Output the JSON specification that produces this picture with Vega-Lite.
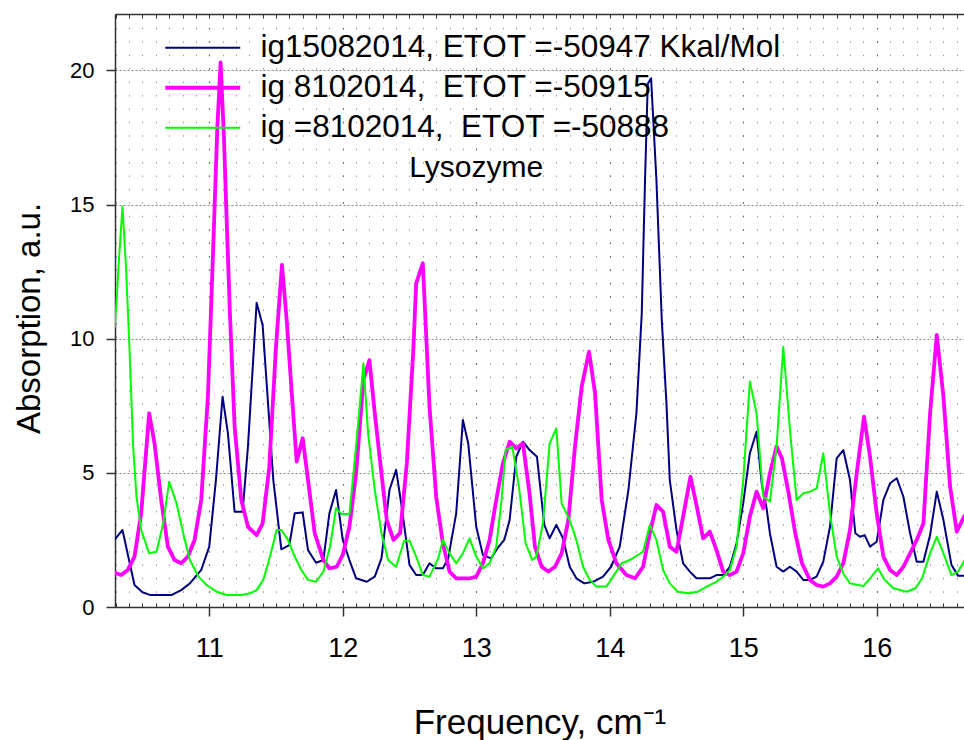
{
"$schema": "https://vega.github.io/schema/vega-lite/v6.json",
"width": 849, "height": 593,
"autosize": "none",
"padding": {"left": 115, "top": 14, "right": 0, "bottom": 133},
"background": "white",
"datasets": {
"spectra": [
{"s":"A","x":10.29,"y":2.5},{"s":"A","x":10.35,"y":2.87},{"s":"A","x":10.44,"y":0.82},{"s":"A","x":10.5,"y":0.55},{"s":"A","x":10.555,"y":0.45},{"s":"A","x":10.72,"y":0.45},{"s":"A","x":10.79,"y":0.63},{"s":"A","x":10.855,"y":0.88},{"s":"A","x":10.94,"y":1.38},{"s":"A","x":11.0,"y":2.25},{"s":"A","x":11.05,"y":4.73},{"s":"A","x":11.1,"y":7.84},{"s":"A","x":11.14,"y":6.47},{"s":"A","x":11.19,"y":3.55},{"s":"A","x":11.25,"y":3.55},{"s":"A","x":11.29,"y":5.98},{"s":"A","x":11.355,"y":11.34},{"s":"A","x":11.4,"y":10.5},{"s":"A","x":11.48,"y":4.73},{"s":"A","x":11.54,"y":2.15},{"s":"A","x":11.6,"y":2.31},{"s":"A","x":11.64,"y":3.49},{"s":"A","x":11.7,"y":3.52},{"s":"A","x":11.74,"y":2.12},{"s":"A","x":11.8,"y":1.65},{"s":"A","x":11.855,"y":1.75},{"s":"A","x":11.9,"y":3.49},{"s":"A","x":11.95,"y":4.36},{"s":"A","x":12.0,"y":2.5},{"s":"A","x":12.05,"y":1.75},{"s":"A","x":12.1,"y":1.07},{"s":"A","x":12.18,"y":0.94},{"s":"A","x":12.24,"y":1.13},{"s":"A","x":12.29,"y":1.81},{"s":"A","x":12.35,"y":4.36},{"s":"A","x":12.4,"y":5.11},{"s":"A","x":12.44,"y":3.8},{"s":"A","x":12.5,"y":1.57},{"s":"A","x":12.55,"y":1.19},{"s":"A","x":12.6,"y":1.19},{"s":"A","x":12.65,"y":1.63},{"s":"A","x":12.7,"y":1.44},{"s":"A","x":12.75,"y":1.44},{"s":"A","x":12.79,"y":1.81},{"s":"A","x":12.85,"y":3.49},{"s":"A","x":12.9,"y":6.97},{"s":"A","x":12.94,"y":6.1},{"s":"A","x":13.0,"y":2.99},{"s":"A","x":13.05,"y":1.94},{"s":"A","x":13.11,"y":1.81},{"s":"A","x":13.16,"y":2.19},{"s":"A","x":13.21,"y":2.5},{"s":"A","x":13.25,"y":3.24},{"s":"A","x":13.3,"y":5.6},{"s":"A","x":13.35,"y":6.16},{"s":"A","x":13.4,"y":5.85},{"s":"A","x":13.455,"y":5.6},{"s":"A","x":13.51,"y":3.06},{"s":"A","x":13.55,"y":2.56},{"s":"A","x":13.6,"y":3.06},{"s":"A","x":13.65,"y":2.56},{"s":"A","x":13.7,"y":1.5},{"s":"A","x":13.75,"y":1.07},{"s":"A","x":13.81,"y":0.88},{"s":"A","x":13.875,"y":0.94},{"s":"A","x":13.95,"y":1.13},{"s":"A","x":14.01,"y":1.5},{"s":"A","x":14.075,"y":2.25},{"s":"A","x":14.14,"y":4.36},{"s":"A","x":14.2,"y":7.22},{"s":"A","x":14.24,"y":10.94},{"s":"A","x":14.265,"y":16.0},{"s":"A","x":14.285,"y":19.5},{"s":"A","x":14.31,"y":19.7},{"s":"A","x":14.35,"y":15.9},{"s":"A","x":14.39,"y":10.7},{"s":"A","x":14.425,"y":7.59},{"s":"A","x":14.45,"y":4.73},{"s":"A","x":14.5,"y":2.87},{"s":"A","x":14.55,"y":1.63},{"s":"A","x":14.6,"y":1.32},{"s":"A","x":14.65,"y":1.07},{"s":"A","x":14.75,"y":1.07},{"s":"A","x":14.8,"y":1.19},{"s":"A","x":14.85,"y":1.19},{"s":"A","x":14.9,"y":1.5},{"s":"A","x":14.95,"y":2.37},{"s":"A","x":15.0,"y":3.86},{"s":"A","x":15.05,"y":5.73},{"s":"A","x":15.1,"y":6.53},{"s":"A","x":15.14,"y":4.55},{"s":"A","x":15.175,"y":3.68},{"s":"A","x":15.2,"y":2.75},{"s":"A","x":15.25,"y":1.5},{"s":"A","x":15.3,"y":1.32},{"s":"A","x":15.35,"y":1.5},{"s":"A","x":15.4,"y":1.32},{"s":"A","x":15.45,"y":1.01},{"s":"A","x":15.5,"y":1.01},{"s":"A","x":15.55,"y":1.13},{"s":"A","x":15.6,"y":1.69},{"s":"A","x":15.65,"y":2.99},{"s":"A","x":15.7,"y":5.54},{"s":"A","x":15.75,"y":5.85},{"s":"A","x":15.8,"y":4.73},{"s":"A","x":15.84,"y":2.75},{"s":"A","x":15.875,"y":2.62},{"s":"A","x":15.91,"y":2.68},{"s":"A","x":15.95,"y":2.25},{"s":"A","x":16.0,"y":2.43},{"s":"A","x":16.05,"y":3.99},{"s":"A","x":16.1,"y":4.61},{"s":"A","x":16.15,"y":4.8},{"s":"A","x":16.2,"y":4.11},{"s":"A","x":16.25,"y":2.75},{"s":"A","x":16.3,"y":1.69},{"s":"A","x":16.35,"y":1.69},{"s":"A","x":16.4,"y":2.68},{"s":"A","x":16.45,"y":4.3},{"s":"A","x":16.5,"y":3.24},{"s":"A","x":16.56,"y":1.57},{"s":"A","x":16.61,"y":1.16},{"s":"A","x":16.66,"y":1.16},
{"s":"B","x":10.29,"y":1.28},{"s":"B","x":10.34,"y":1.19},{"s":"B","x":10.39,"y":1.38},{"s":"B","x":10.44,"y":1.88},{"s":"B","x":10.49,"y":3.49},{"s":"B","x":10.55,"y":7.22},{"s":"B","x":10.59,"y":6.1},{"s":"B","x":10.64,"y":3.99},{"s":"B","x":10.69,"y":2.25},{"s":"B","x":10.74,"y":1.75},{"s":"B","x":10.79,"y":1.63},{"s":"B","x":10.84,"y":1.88},{"s":"B","x":10.89,"y":2.5},{"s":"B","x":10.94,"y":3.99},{"s":"B","x":10.99,"y":7.84},{"s":"B","x":11.03,"y":13.43},{"s":"B","x":11.06,"y":17.8},{"s":"B","x":11.085,"y":20.3},{"s":"B","x":11.11,"y":17.5},{"s":"B","x":11.13,"y":14.5},{"s":"B","x":11.155,"y":10.94},{"s":"B","x":11.19,"y":6.72},{"s":"B","x":11.24,"y":3.99},{"s":"B","x":11.29,"y":2.99},{"s":"B","x":11.355,"y":2.68},{"s":"B","x":11.4,"y":3.12},{"s":"B","x":11.45,"y":5.23},{"s":"B","x":11.5,"y":9.7},{"s":"B","x":11.545,"y":12.75},{"s":"B","x":11.58,"y":10.7},{"s":"B","x":11.62,"y":7.84},{"s":"B","x":11.655,"y":5.42},{"s":"B","x":11.7,"y":6.29},{"s":"B","x":11.74,"y":4.73},{"s":"B","x":11.79,"y":2.75},{"s":"B","x":11.855,"y":1.75},{"s":"B","x":11.9,"y":1.44},{"s":"B","x":11.955,"y":1.5},{"s":"B","x":12.0,"y":1.94},{"s":"B","x":12.05,"y":2.99},{"s":"B","x":12.1,"y":4.98},{"s":"B","x":12.155,"y":8.46},{"s":"B","x":12.2,"y":9.2},{"s":"B","x":12.24,"y":7.22},{"s":"B","x":12.29,"y":4.98},{"s":"B","x":12.33,"y":3.24},{"s":"B","x":12.38,"y":2.5},{"s":"B","x":12.43,"y":2.75},{"s":"B","x":12.48,"y":5.35},{"s":"B","x":12.53,"y":9.7},{"s":"B","x":12.55,"y":12.06},{"s":"B","x":12.6,"y":12.81},{"s":"B","x":12.65,"y":7.47},{"s":"B","x":12.7,"y":4.11},{"s":"B","x":12.75,"y":2.37},{"s":"B","x":12.8,"y":1.32},{"s":"B","x":12.85,"y":1.07},{"s":"B","x":12.955,"y":1.07},{"s":"B","x":13.0,"y":1.13},{"s":"B","x":13.05,"y":1.63},{"s":"B","x":13.1,"y":2.5},{"s":"B","x":13.15,"y":3.99},{"s":"B","x":13.2,"y":5.35},{"s":"B","x":13.25,"y":6.16},{"s":"B","x":13.3,"y":5.91},{"s":"B","x":13.35,"y":6.1},{"s":"B","x":13.4,"y":4.2},{"s":"B","x":13.44,"y":2.25},{"s":"B","x":13.49,"y":1.5},{"s":"B","x":13.54,"y":1.32},{"s":"B","x":13.59,"y":1.5},{"s":"B","x":13.64,"y":2.0},{"s":"B","x":13.69,"y":3.24},{"s":"B","x":13.74,"y":5.98},{"s":"B","x":13.79,"y":8.21},{"s":"B","x":13.845,"y":9.52},{"s":"B","x":13.89,"y":7.97},{"s":"B","x":13.94,"y":3.99},{"s":"B","x":13.99,"y":2.5},{"s":"B","x":14.05,"y":1.63},{"s":"B","x":14.125,"y":1.19},{"s":"B","x":14.19,"y":1.07},{"s":"B","x":14.25,"y":1.5},{"s":"B","x":14.3,"y":2.75},{"s":"B","x":14.35,"y":3.8},{"s":"B","x":14.4,"y":3.55},{"s":"B","x":14.45,"y":2.25},{"s":"B","x":14.5,"y":2.06},{"s":"B","x":14.55,"y":3.37},{"s":"B","x":14.605,"y":4.86},{"s":"B","x":14.65,"y":3.8},{"s":"B","x":14.7,"y":2.56},{"s":"B","x":14.75,"y":2.81},{"s":"B","x":14.8,"y":2.12},{"s":"B","x":14.85,"y":1.32},{"s":"B","x":14.9,"y":1.19},{"s":"B","x":14.95,"y":1.32},{"s":"B","x":15.0,"y":2.0},{"s":"B","x":15.05,"y":3.37},{"s":"B","x":15.1,"y":4.3},{"s":"B","x":15.15,"y":3.68},{"s":"B","x":15.2,"y":4.98},{"s":"B","x":15.25,"y":5.98},{"s":"B","x":15.29,"y":5.54},{"s":"B","x":15.34,"y":4.24},{"s":"B","x":15.39,"y":2.75},{"s":"B","x":15.44,"y":1.63},{"s":"B","x":15.5,"y":1.01},{"s":"B","x":15.55,"y":0.82},{"s":"B","x":15.6,"y":0.76},{"s":"B","x":15.65,"y":0.88},{"s":"B","x":15.7,"y":1.13},{"s":"B","x":15.75,"y":1.63},{"s":"B","x":15.8,"y":2.87},{"s":"B","x":15.85,"y":4.98},{"s":"B","x":15.905,"y":7.09},{"s":"B","x":15.95,"y":5.6},{"s":"B","x":16.0,"y":3.49},{"s":"B","x":16.05,"y":1.88},{"s":"B","x":16.1,"y":1.38},{"s":"B","x":16.15,"y":1.19},{"s":"B","x":16.2,"y":1.5},{"s":"B","x":16.25,"y":2.0},{"s":"B","x":16.3,"y":2.5},{"s":"B","x":16.35,"y":3.12},{"s":"B","x":16.4,"y":7.22},{"s":"B","x":16.45,"y":10.14},{"s":"B","x":16.5,"y":7.84},{"s":"B","x":16.55,"y":4.48},{"s":"B","x":16.6,"y":2.81},{"s":"B","x":16.66,"y":3.43},
{"s":"C","x":10.29,"y":10.39},{"s":"C","x":10.305,"y":11.32},{"s":"C","x":10.325,"y":13.06},{"s":"C","x":10.35,"y":14.92},{"s":"C","x":10.375,"y":12.81},{"s":"C","x":10.4,"y":9.95},{"s":"C","x":10.43,"y":5.98},{"s":"C","x":10.455,"y":4.11},{"s":"C","x":10.49,"y":2.87},{"s":"C","x":10.55,"y":2.0},{"s":"C","x":10.605,"y":2.06},{"s":"C","x":10.655,"y":3.12},{"s":"C","x":10.7,"y":4.67},{"s":"C","x":10.755,"y":3.86},{"s":"C","x":10.805,"y":2.75},{"s":"C","x":10.855,"y":1.75},{"s":"C","x":10.92,"y":1.13},{"s":"C","x":10.98,"y":0.82},{"s":"C","x":11.055,"y":0.57},{"s":"C","x":11.13,"y":0.45},{"s":"C","x":11.24,"y":0.45},{"s":"C","x":11.305,"y":0.51},{"s":"C","x":11.355,"y":0.63},{"s":"C","x":11.405,"y":1.01},{"s":"C","x":11.455,"y":1.88},{"s":"C","x":11.505,"y":2.87},{"s":"C","x":11.54,"y":2.87},{"s":"C","x":11.59,"y":2.5},{"s":"C","x":11.64,"y":1.88},{"s":"C","x":11.69,"y":1.38},{"s":"C","x":11.74,"y":1.01},{"s":"C","x":11.8,"y":0.94},{"s":"C","x":11.855,"y":1.32},{"s":"C","x":11.905,"y":2.25},{"s":"C","x":11.95,"y":3.68},{"s":"C","x":11.99,"y":3.47},{"s":"C","x":12.05,"y":3.47},{"s":"C","x":12.1,"y":5.98},{"s":"C","x":12.155,"y":9.08},{"s":"C","x":12.19,"y":6.47},{"s":"C","x":12.24,"y":4.36},{"s":"C","x":12.29,"y":2.75},{"s":"C","x":12.34,"y":1.75},{"s":"C","x":12.4,"y":1.5},{"s":"C","x":12.46,"y":2.47},{"s":"C","x":12.5,"y":2.47},{"s":"C","x":12.55,"y":1.88},{"s":"C","x":12.6,"y":1.19},{"s":"C","x":12.65,"y":1.13},{"s":"C","x":12.715,"y":1.81},{"s":"C","x":12.75,"y":2.5},{"s":"C","x":12.8,"y":2.0},{"s":"C","x":12.85,"y":1.63},{"s":"C","x":12.9,"y":2.0},{"s":"C","x":12.95,"y":2.56},{"s":"C","x":13.0,"y":1.88},{"s":"C","x":13.05,"y":1.44},{"s":"C","x":13.1,"y":1.63},{"s":"C","x":13.15,"y":2.25},{"s":"C","x":13.19,"y":3.99},{"s":"C","x":13.22,"y":5.85},{"s":"C","x":13.27,"y":5.98},{"s":"C","x":13.32,"y":4.48},{"s":"C","x":13.37,"y":2.37},{"s":"C","x":13.42,"y":1.75},{"s":"C","x":13.45,"y":1.88},{"s":"C","x":13.5,"y":3.12},{"s":"C","x":13.55,"y":6.1},{"s":"C","x":13.6,"y":6.66},{"s":"C","x":13.64,"y":3.86},{"s":"C","x":13.7,"y":3.24},{"s":"C","x":13.75,"y":2.5},{"s":"C","x":13.8,"y":1.5},{"s":"C","x":13.85,"y":1.01},{"s":"C","x":13.9,"y":0.76},{"s":"C","x":13.975,"y":0.76},{"s":"C","x":14.025,"y":1.13},{"s":"C","x":14.09,"y":1.63},{"s":"C","x":14.15,"y":1.75},{"s":"C","x":14.25,"y":2.06},{"s":"C","x":14.3,"y":3.06},{"s":"C","x":14.35,"y":2.5},{"s":"C","x":14.4,"y":1.38},{"s":"C","x":14.45,"y":0.88},{"s":"C","x":14.51,"y":0.57},{"s":"C","x":14.59,"y":0.51},{"s":"C","x":14.66,"y":0.57},{"s":"C","x":14.725,"y":0.76},{"s":"C","x":14.8,"y":0.94},{"s":"C","x":14.85,"y":1.13},{"s":"C","x":14.9,"y":1.38},{"s":"C","x":14.95,"y":2.25},{"s":"C","x":15.0,"y":4.73},{"s":"C","x":15.05,"y":8.4},{"s":"C","x":15.1,"y":7.22},{"s":"C","x":15.15,"y":4.11},{"s":"C","x":15.2,"y":3.93},{"s":"C","x":15.25,"y":5.98},{"s":"C","x":15.3,"y":9.7},{"s":"C","x":15.35,"y":6.6},{"s":"C","x":15.4,"y":3.99},{"s":"C","x":15.45,"y":4.24},{"s":"C","x":15.5,"y":4.3},{"s":"C","x":15.55,"y":4.42},{"s":"C","x":15.6,"y":5.73},{"s":"C","x":15.65,"y":3.49},{"s":"C","x":15.7,"y":1.88},{"s":"C","x":15.75,"y":1.25},{"s":"C","x":15.8,"y":0.88},{"s":"C","x":15.9,"y":0.78},{"s":"C","x":15.95,"y":1.07},{"s":"C","x":16.01,"y":1.44},{"s":"C","x":16.06,"y":1.01},{"s":"C","x":16.125,"y":0.7},{"s":"C","x":16.225,"y":0.57},{"s":"C","x":16.29,"y":0.7},{"s":"C","x":16.34,"y":1.07},{"s":"C","x":16.4,"y":2.0},{"s":"C","x":16.45,"y":2.62},{"s":"C","x":16.5,"y":2.0},{"s":"C","x":16.56,"y":1.19},{"s":"C","x":16.61,"y":1.32},{"s":"C","x":16.66,"y":1.75}
],
"notes": [{"x": 13.0, "y": 16.36, "label": "Lysozyme"}]
},
"layer": [
{
"data": {"name": "spectra"},
"mark": {"type": "line", "opacity": 0},
"encoding": {
"x": {"field": "x", "type": "quantitative", "scale": {"domain": [10.294, 16.654], "nice": false, "zero": false},
"axis": {"orient": "bottom", "values": [10.3,10.4,10.5,10.6,10.7,10.8,10.9,11.0,11.1,11.2,11.3,11.4,11.5,11.6,11.7,11.8,11.9,12.0,12.1,12.2,12.3,12.4,12.5,12.6,12.7,12.8,12.9,13.0,13.1,13.2,13.3,13.4,13.5,13.6,13.7,13.8,13.9,14.0,14.1,14.2,14.3,14.4,14.5,14.6,14.7,14.8,14.9,15.0,15.1,15.2,15.3,15.4,15.5,15.6,15.7,15.8,15.9,16.0,16.1,16.2,16.3,16.4,16.5,16.6],
"labels": false, "domain": false, "ticks": true, "tickSize": -4, "tickColor": "#333", "tickWidth": 1,
"grid": true, "gridDash": [1.5, 11.915], "gridColor": "#9a9a9a", "gridWidth": 1, "title": null}},
"y": {"field": "y", "type": "quantitative", "scale": {"domain": [0, 22.1], "nice": false, "zero": false}, "axis": null}
}
},
{
"data": {"name": "spectra"},
"mark": {"type": "line", "opacity": 0},
"encoding": {
"x": {"field": "x", "type": "quantitative", "scale": {"domain": [10.294, 16.654], "nice": false, "zero": false},
"axis": {"orient": "top", "values": [10.3,10.4,10.5,10.6,10.7,10.8,10.9,11.0,11.1,11.2,11.3,11.4,11.5,11.6,11.7,11.8,11.9,12.0,12.1,12.2,12.3,12.4,12.5,12.6,12.7,12.8,12.9,13.0,13.1,13.2,13.3,13.4,13.5,13.6,13.7,13.8,13.9,14.0,14.1,14.2,14.3,14.4,14.5,14.6,14.7,14.8,14.9,15.0,15.1,15.2,15.3,15.4,15.5,15.6,15.7,15.8,15.9,16.0,16.1,16.2,16.3,16.4,16.5,16.6],
"labels": false, "domain": true, "domainColor": "#333", "domainWidth": 1.5, "ticks": true, "tickSize": -4, "tickColor": "#333", "tickWidth": 1, "grid": false, "title": null}},
"y": {"field": "y", "type": "quantitative", "scale": {"domain": [0, 22.1], "nice": false, "zero": false}, "axis": null}
}
},
{
"data": {"name": "spectra"},
"mark": {"type": "line", "clip": true, "strokeJoin": "round"},
"encoding": {
"x": {"field": "x", "type": "quantitative", "scale": {"domain": [10.294, 16.654], "nice": false, "zero": false},
"axis": {"orient": "bottom", "values": [11, 12, 13, 14, 15, 16], "format": "d", "tickSize": 9, "tickColor": "#333", "tickWidth": 1.5,
"domain": true, "domainColor": "#333", "domainWidth": 1.5, "labelFontSize": 27, "labelPadding": 19,
"grid": true, "gridDash": [1.5, 11.915], "gridColor": "#666", "gridWidth": 1.2,
"title": "Frequency, cm⁻¹", "titleFontSize": 35, "titleBaseline": "alphabetic", "titleY": 126}},
"y": {"field": "y", "type": "quantitative", "scale": {"domain": [0, 22.1], "nice": false, "zero": false},
"axis": {"orient": "left", "values": [0, 5, 10, 15, 20], "tickSize": 9, "tickColor": "#333", "tickWidth": 1.5,
"domain": true, "domainColor": "#333", "domainWidth": 1.5, "labelFontSize": 22, "labelPadding": 12,
"grid": true, "gridDash": [2, 2], "gridColor": "#888", "gridWidth": 1,
"title": "Absorption, a.u.", "titleFontSize": 33, "titleBaseline": "alphabetic", "titleX": -76, "titleY": 304}},
"color": {"field": "s", "type": "nominal", "scale": {"domain": ["A", "B", "C"], "range": ["#000080", "#FF00FF", "#00FF00"]},
"legend": {"title": null, "orient": "none", "legendX": 72, "legendY": 18, "symbolType": "M-3,0H3", "symbolSize": 625,
"labelFontSize": 31.5, "labelFont": "Liberation Sans", "labelColor": "#000", "labelLimit": 800, "labelOffset": 42, "rowPadding": 7, "padding": 0,
"labelExpr": "datum.label == 'A' ? 'ig15082014, ETOT =-50947 Kkal/Mol' : datum.label == 'B' ? 'ig 8102014, \u00a0ETOT =-50915' : 'ig =8102014, \u00a0ETOT =-50888'"}},
"strokeWidth": {"field": "s", "type": "nominal", "scale": {"type": "ordinal", "domain": ["A", "B", "C"], "range": [2, 3.8, 2]},
"legend": {"title": null, "orient": "none", "legendX": 72, "legendY": 18, "symbolType": "M-3,0H3", "symbolSize": 625,
"labelFontSize": 31.5, "labelFont": "Liberation Sans", "labelColor": "#000", "labelLimit": 800, "labelOffset": 42, "rowPadding": 7, "padding": 0,
"labelExpr": "datum.label == 'A' ? 'ig15082014, ETOT =-50947 Kkal/Mol' : datum.label == 'B' ? 'ig 8102014, \u00a0ETOT =-50915' : 'ig =8102014, \u00a0ETOT =-50888'"}}
}
},
{
"data": {"name": "notes"},
"mark": {"type": "text", "fontSize": 30, "font": "Liberation Sans", "color": "#000", "align": "center", "baseline": "middle"},
"encoding": {
"x": {"field": "x", "type": "quantitative", "scale": {"domain": [10.294, 16.654], "nice": false, "zero": false}, "axis": null},
"y": {"field": "y", "type": "quantitative", "scale": {"domain": [0, 22.1], "nice": false, "zero": false}, "axis": null},
"text": {"field": "label"}
}
}
],
"resolve": {"axis": {"x": "independent", "y": "independent"}},
"config": {
"view": {"stroke": null},
"axis": {"labelFont": "Liberation Sans", "titleFont": "Liberation Sans", "labelColor": "#000", "titleColor": "#000", "titleFontWeight": "normal"}
}
}
